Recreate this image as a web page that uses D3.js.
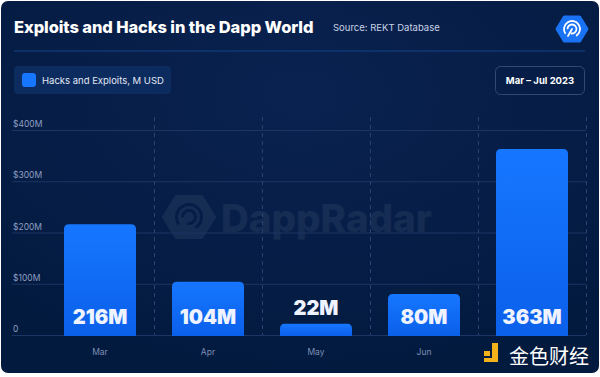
<!DOCTYPE html>
<html>
<head>
<meta charset="utf-8">
<script src="https://cdn.jsdelivr.net/npm/d3@7"></script>
<style>
  html, body { margin: 0; padding: 0; background: #ffffff; }
  svg { display: block; }
</style>
</head>
<body>
<div id="chart"></div>
<script>
// chart data
var months = ["Mar", "Apr", "May", "Jun", "Jul"];
var losses = [216, 104, 22, 80, 363];
var valueLabels = ["216M", "104M", "22M", "80M", "363M"];
var yTicks = [0, 100, 200, 300, 400];
var yTickLabels = ["0", "$100M", "$200M", "$300M", "$400M"];
var xLabels = ["Mar", "Apr", "May", "Jun", ""];

function init() {
    var w = 600;
    var h = 377;

    var svg = d3.select("#chart")
                .append("svg")
                .attr("width", w)
                .attr("height", h);

    var defs = svg.append("defs");

    // background gradient
    var bg = defs.append("radialGradient")
        .attr("id", "bgGrad")
        .attr("cx", "50%").attr("cy", "25%").attr("r", "75%");
    bg.append("stop").attr("offset", "0%").attr("stop-color", "#0a2250");
    bg.append("stop").attr("offset", "100%").attr("stop-color", "#031a3f");

    var barGrad = defs.append("linearGradient")
        .attr("id", "barGrad")
        .attr("x1", 0).attr("y1", 0).attr("x2", 0).attr("y2", 1);
    barGrad.append("stop").attr("offset", "0%").attr("stop-color", "#1676ff");
    barGrad.append("stop").attr("offset", "100%").attr("stop-color", "#0b60ea");

    // card
    svg.append("rect")
        .attr("x", 1).attr("y", 1)
        .attr("width", w - 2).attr("height", 372)
        .attr("rx", 7)
        .attr("fill", "url(#bgGrad)");

    // header
    svg.append("text")
        .attr("x", 14).attr("y", 33)
        .attr("fill", "#ffffff")
        .style("font-family", "Inter, 'Noto Sans', sans-serif")
        .style("font-weight", 800)
        .style("font-size", "16.5px")
        .style("letter-spacing", "-0.1px")
        .text("Exploits and Hacks in the Dapp World");

    svg.append("text")
        .attr("x", 333).attr("y", 31)
        .attr("fill", "#c9d3e6")
        .style("font-family", "Inter, 'Noto Sans', sans-serif")
        .style("font-size", "9.5px")
        .text("Source: REKT Database");

    // logo hexagon top right
    var hex = d3.range(6).map(function(i) {
        var a = Math.PI / 3 * i;
        return [572 + 15 * Math.cos(a), 29 + 14 * Math.sin(a)];
    });
    svg.append("path")
        .attr("d", d3.line()(hex) + "Z")
        .attr("fill", "#1a72f5")
        .attr("stroke", "#1a72f5")
        .attr("stroke-width", 3)
        .attr("stroke-linejoin", "round");
    var logo = svg.append("g")
        .attr("fill", "none")
        .attr("stroke", "#ffffff")
        .attr("stroke-width", 1.8)
        .attr("stroke-linecap", "round");
    logo.append("path").attr("d", d3.arc()({innerRadius: 8, outerRadius: 8, startAngle: -2.2, endAngle: 2.6}))
        .attr("transform", "translate(572,29)");
    logo.append("path").attr("d", d3.arc()({innerRadius: 4.5, outerRadius: 4.5, startAngle: -1.6, endAngle: 3.4}))
        .attr("transform", "translate(572,29)");
    logo.append("line").attr("x1", 572).attr("y1", 29).attr("x2", 568).attr("y2", 36);

    // separator
    svg.append("line")
        .attr("x1", 14).attr("x2", 585)
        .attr("y1", 51).attr("y2", 51)
        .attr("stroke", "#17428a")
        .attr("stroke-width", 1);

    // legend box
    svg.append("rect")
        .attr("x", 14).attr("y", 66)
        .attr("width", 157).attr("height", 28)
        .attr("rx", 4)
        .attr("fill", "#0c2b5e");
    svg.append("rect")
        .attr("x", 22).attr("y", 73)
        .attr("width", 14).attr("height", 14)
        .attr("rx", 3)
        .attr("fill", "#1676ff");
    svg.append("text")
        .attr("x", 42).attr("y", 83.5)
        .attr("fill", "#e3e9f5")
        .style("font-family", "Inter, 'Noto Sans', sans-serif")
        .style("font-size", "9.5px")
        .text("Hacks and Exploits, M USD");

    // date box
    svg.append("rect")
        .attr("x", 495.5).attr("y", 66.5)
        .attr("width", 89).attr("height", 28)
        .attr("rx", 5)
        .attr("fill", "none")
        .attr("stroke", "#33496f");
    svg.append("text")
        .attr("x", 540).attr("y", 84)
        .attr("text-anchor", "middle")
        .attr("fill", "#ffffff")
        .style("font-family", "Inter, 'Noto Sans', sans-serif")
        .style("font-weight", 700)
        .style("font-size", "9.5px")
        .text("Mar \u2013 Jul 2023");

    // scales
    var xScale = d3.scaleBand()
                    .domain(months)
                    .range([46, 586])
                    .paddingInner(1 / 3)
                    .paddingOuter(1 / 6);

    var yScale = d3.scaleLinear()
                    .domain([0, 400])
                    .range([335, 130]);

    // watermark
    var wm = svg.append("g").attr("opacity", 0.06);
    var hex2 = d3.range(6).map(function(i) {
        var a = Math.PI / 3 * i;
        return [189 + 25 * Math.cos(a), 217 + 23 * Math.sin(a)];
    });
    wm.append("path").attr("d", d3.line()(hex2) + "Z")
        .attr("fill", "#ffffff")
        .attr("stroke", "#ffffff").attr("stroke-width", 4).attr("stroke-linejoin", "round");
    wm.append("path").attr("d", d3.arc()({innerRadius: 11, outerRadius: 14, startAngle: -2.2, endAngle: 2.6}))
        .attr("transform", "translate(189,217)").attr("fill", "#031a3f");
    wm.append("path").attr("d", d3.arc()({innerRadius: 5, outerRadius: 8, startAngle: -1.6, endAngle: 3.4}))
        .attr("transform", "translate(189,217)").attr("fill", "#031a3f");
    wm.append("text")
        .attr("x", 221).attr("y", 232)
        .attr("fill", "#ffffff")
        .style("font-family", "Inter, 'Noto Sans', sans-serif")
        .style("font-weight", 800)
        .style("font-size", "38.5px")
        .text("DappRadar");

    // horizontal grid
    svg.append("g")
        .selectAll("line")
        .data(yTicks)
        .enter()
        .append("line")
        .attr("x1", 12).attr("x2", 586)
        .attr("y1", function(d) { return yScale(d) + 0.5; })
        .attr("y2", function(d) { return yScale(d) + 0.5; })
        .attr("stroke", "#1d3563")
        .attr("stroke-width", 1);

    // vertical dashed separators
    var step = xScale.step();
    svg.append("g")
        .selectAll("line")
        .data(months)
        .enter()
        .append("line")
        .attr("x1", function(d) { return xScale(d) + xScale.bandwidth() + step / 6 + 0.5; })
        .attr("x2", function(d) { return xScale(d) + xScale.bandwidth() + step / 6 + 0.5; })
        .attr("y1", 117).attr("y2", 335)
        .attr("stroke", "#2b4270")
        .attr("stroke-dasharray", "4,4");

    // y labels
    svg.append("g")
        .selectAll("text")
        .data(yTicks)
        .enter()
        .append("text")
        .attr("x", 13)
        .attr("y", function(d) { return yScale(d) - 3; })
        .attr("fill", "#8f9fc2")
        .style("font-family", "Inter, 'Noto Sans', sans-serif")
        .style("font-size", "8.5px")
        .text(function(d, i) { return yTickLabels[i]; });

    // bars
    var r = 5;
    svg.append("g")
        .selectAll("path")
        .data(losses)
        .enter()
        .append("path")
        .attr("d", function(d, i) {
            var x0 = xScale(months[i]);
            var x1 = x0 + xScale.bandwidth();
            var y0 = yScale(d);
            var y1 = 336;
            return "M" + x0 + "," + y1 +
                   "V" + (y0 + r) +
                   "Q" + x0 + "," + y0 + " " + (x0 + r) + "," + y0 +
                   "H" + (x1 - r) +
                   "Q" + x1 + "," + y0 + " " + x1 + "," + (y0 + r) +
                   "V" + y1 + "Z";
        })
        .attr("fill", "url(#barGrad)");

    // value labels
    svg.append("g")
        .selectAll("text")
        .data(losses)
        .enter()
        .append("text")
        .attr("x", function(d, i) { return xScale(months[i]) + xScale.bandwidth() / 2; })
        .attr("y", function(d) {
            return (335 - yScale(d) > 30) ? 324 : yScale(d) - 9;
        })
        .attr("text-anchor", "middle")
        .attr("fill", "#eef3ff")
        .style("font-family", "Inter, 'Noto Sans', sans-serif")
        .style("font-weight", 900)
        .style("font-size", "20px")
        .text(function(d, i) { return valueLabels[i]; });

    // x labels
    svg.append("g")
        .selectAll("text")
        .data(months)
        .enter()
        .append("text")
        .attr("x", function(d) { return xScale(d) + xScale.bandwidth() / 2; })
        .attr("y", 355)
        .attr("text-anchor", "middle")
        .attr("fill", "#7d8fb5")
        .style("font-family", "Inter, 'Noto Sans', sans-serif")
        .style("font-size", "8.5px")
        .text(function(d, i) { return xLabels[i]; });

    // bottom right watermark logo
    svg.append("rect").attr("x", 484).attr("y", 351).attr("width", 6).attr("height", 5).attr("fill", "#f4b21a");
    svg.append("path")
        .attr("d", "M492,343 H498 V362 H484 V358 H492 Z")
        .attr("fill", "#f4b21a");
    svg.append("text")
        .attr("x", 509).attr("y", 364)
        .attr("fill", "#ffffff")
        .style("font-family", "'Noto Sans CJK SC', sans-serif")
        .style("font-size", "20px")
        .text("金色财经");
}
window.onload = init;
</script>
</body>
</html>
